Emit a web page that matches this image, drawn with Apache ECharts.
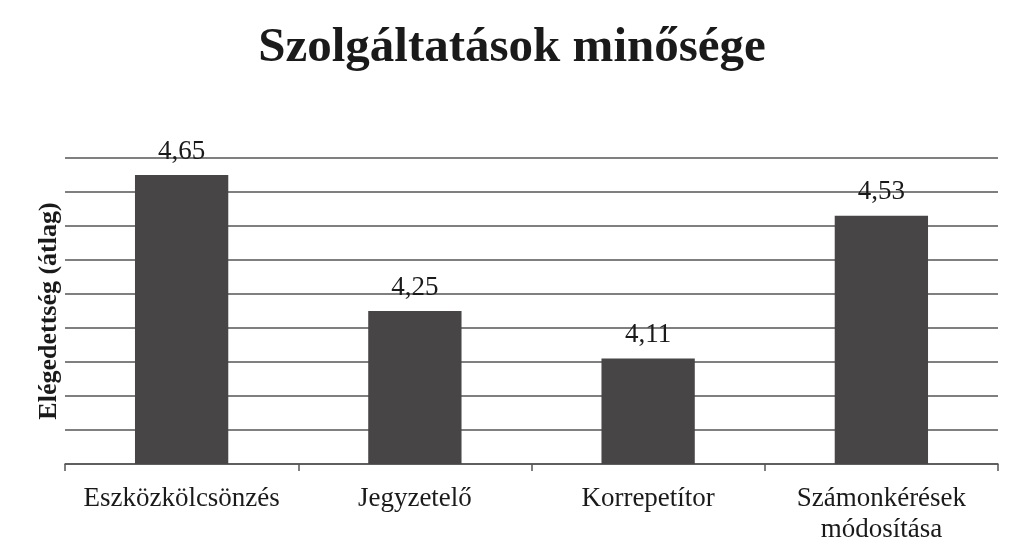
<!DOCTYPE html>
<html>
<head>
<meta charset="utf-8">
<script src="https://cdn.jsdelivr.net/npm/echarts@6/dist/echarts.min.js"></script>
<style>html,body{margin:0;padding:0;background:#fff;}#c{width:1024px;height:552px;}</style>
</head>
<body>
<div id="c"></div>
<script>
const categories = ['Eszközkölcsönzés', 'Jegyzetelő', 'Korrepetítor', 'Számonkérések\nmódosítása'];
const values = [4.65, 4.25, 4.11, 4.53];
const titleText = 'Szolgáltatások minősége';
const yAxisName = 'Elégedettség (átlag)';

const serif = '"Liberation Serif", "DejaVu Serif", serif';
const chart = echarts.init(document.getElementById('c'));
chart.setOption({
  backgroundColor: '#ffffff',
  animation: false,
  title: {
    text: titleText,
    left: 'center',
    top: 19,
    textStyle: { fontFamily: serif, fontWeight: 'bold', fontSize: 49, color: '#1a1a1a' }
  },
  grid: { left: 65, right: 26, top: 158, bottom: 88 },
  xAxis: {
    type: 'category',
    data: categories,
    axisLine: { lineStyle: { color: '#555', width: 1.5 } },
    axisTick: { show: true, alignWithLabel: false, length: 7, lineStyle: { color: '#555', width: 1.5 } },
    axisLabel: { fontFamily: serif, fontSize: 27, color: '#1a1a1a', margin: 19, lineHeight: 31, interval: 0 }
  },
  yAxis: {
    type: 'value',
    min: 3.8,
    max: 4.7,
    interval: 0.1,
    name: yAxisName,
    nameLocation: 'middle',
    nameGap: 3,
    nameRotate: 90,
    nameTextStyle: { fontFamily: serif, fontWeight: 'bold', fontSize: 26, color: '#1a1a1a' },
    axisLine: { show: false },
    axisTick: { show: false },
    axisLabel: { show: false },
    splitLine: { lineStyle: { color: '#555', width: 1.5 } }
  },
  series: [{
    type: 'bar',
    data: values,
    barWidth: '40%',
    itemStyle: { color: '#474545' },
    label: {
      show: true,
      position: 'top',
      distance: 10,
      fontFamily: serif,
      fontSize: 27,
      color: '#1a1a1a',
      formatter: p => String(p.value).replace('.', ',')
    }
  }]
});
</script>
</body>
</html>
